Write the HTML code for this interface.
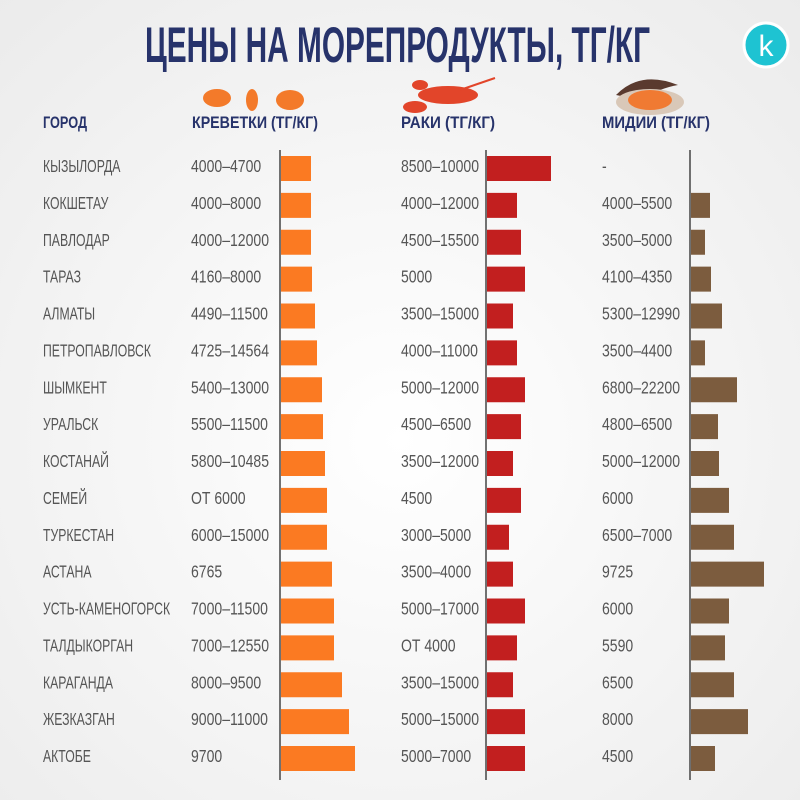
<!DOCTYPE html>
<html><head><meta charset="utf-8"><style>
html,body{margin:0;padding:0;width:800px;height:800px;overflow:hidden}
svg{display:block}
text{font-family:"Liberation Sans Narrow","Liberation Sans",sans-serif}
</style></head><body>
<svg width="800" height="800" viewBox="0 0 800 800" xmlns="http://www.w3.org/2000/svg">
<defs>
<radialGradient id="bg" cx="0.5" cy="0.55" r="0.75">
<stop offset="0" stop-color="#ffffff"/><stop offset="1" stop-color="#ebebeb"/>
</radialGradient>
</defs>
<rect width="800" height="800" fill="url(#bg)"/>
<text x="145" y="62" font-size="50" font-weight="bold" fill="#27336b" textLength="505" lengthAdjust="spacingAndGlyphs">ЦЕНЫ НА МОРЕПРОДУКТЫ, ТГ/КГ</text>
<circle cx="766" cy="45" r="22" fill="#1ec3d2" stroke="#fff" stroke-width="3"/>
<text x="766" y="56" font-size="30" fill="#fff" text-anchor="middle" font-family="Liberation Serif,serif">k</text>

<g fill="#f37a2a">
<ellipse cx="217" cy="98" rx="14" ry="9"/><ellipse cx="252" cy="100" rx="6" ry="11"/><ellipse cx="290" cy="100" rx="14" ry="10"/>
</g>
<g fill="#e2452a">
<ellipse cx="448" cy="95" rx="30" ry="9"/><ellipse cx="415" cy="107" rx="12" ry="6"/><ellipse cx="420" cy="85" rx="8" ry="5"/>
<line x1="460" y1="90" x2="495" y2="78" stroke="#e2452a" stroke-width="2"/>
</g>
<path d="M616 95 Q640 70 678 85 Q660 88 640 100 Z" fill="#5a3a2e"/>
<ellipse cx="650" cy="102" rx="34" ry="13" fill="#d9c8b8"/>
<ellipse cx="650" cy="100" rx="22" ry="10" fill="#f07a32"/>

<g font-size="17" font-weight="bold" fill="#27336b">
<text x="43" y="128" textLength="44" lengthAdjust="spacingAndGlyphs">ГОРОД</text>
<text x="192" y="128" textLength="126" lengthAdjust="spacingAndGlyphs">КРЕВЕТКИ (ТГ/КГ)</text>
<text x="401" y="128" textLength="94" lengthAdjust="spacingAndGlyphs">РАКИ (ТГ/КГ)</text>
<text x="602" y="128" textLength="108" lengthAdjust="spacingAndGlyphs">МИДИИ (ТГ/КГ)</text>
</g>

<g stroke="#444" stroke-width="1.5">
<line x1="280" y1="150" x2="280" y2="780"/>
<line x1="486" y1="150" x2="486" y2="780"/>
<line x1="690" y1="150" x2="690" y2="780"/>
</g>

<g id="rows" font-size="18" fill="#555"></g>
</svg>
<script>
var d=[
["КЫЗЫЛОРДА","4000–4700",311,"8500–10000",551,"-",0],
["КОКШЕТАУ","4000–8000",311,"4000–12000",517,"4000–5500",710],
["ПАВЛОДАР","4000–12000",311,"4500–15500",521,"3500–5000",705],
["ТАРАЗ","4160–8000",312,"5000",525,"4100–4350",711],
["АЛМАТЫ","4490–11500",315,"3500–15000",513,"5300–12990",722],
["ПЕТРОПАВЛОВСК","4725–14564",317,"4000–11000",517,"3500–4400",705],
["ШЫМКЕНТ","5400–13000",322,"5000–12000",525,"6800–22200",737],
["УРАЛЬСК","5500–11500",323,"4500–6500",521,"4800–6500",718],
["КОСТАНАЙ","5800–10485",325,"3500–12000",513,"5000–12000",719],
["СЕМЕЙ","ОТ 6000",327,"4500",521,"6000",729],
["ТУРКЕСТАН","6000–15000",327,"3000–5000",509,"6500–7000",734],
["АСТАНА","6765",332,"3500–4000",513,"9725",764],
["УСТЬ-КАМЕНОГОРСК","7000–11500",334,"5000–17000",525,"6000",729],
["ТАЛДЫКОРГАН","7000–12550",334,"ОТ 4000",517,"5590",725],
["КАРАГАНДА","8000–9500",342,"3500–15000",513,"6500",734],
["ЖЕЗКАЗГАН","9000–11000",349,"5000–15000",525,"8000",748],
["АКТОБЕ","9700",355,"5000–7000",525,"4500",715]];
var g=document.getElementById('rows'),h="";
function t(x,y,s,k){return '<text transform="translate('+x+','+y+') scale('+k+',1)">'+s+'</text>';}
d.forEach(function(r,i){var cy=167+i*36.875,ty=cy+5,by=cy-11;
h+=t(43,ty,r[0],0.68);
h+=t(191,ty,r[1],0.78);
h+=t(401,ty,r[3],0.78);
h+=t(602,ty,r[5],0.78);
h+='<rect x="281" y="'+by+'" width="'+(r[2]-281)+'" height="25" fill="#fb7a22"/>';
h+='<rect x="487" y="'+by+'" width="'+(r[4]-487)+'" height="25" fill="#c21f1f"/>';
if(r[6])h+='<rect x="691" y="'+by+'" width="'+(r[6]-691)+'" height="25" fill="#7c5c3e"/>';
});
g.innerHTML=h;
</script>
</body></html>
